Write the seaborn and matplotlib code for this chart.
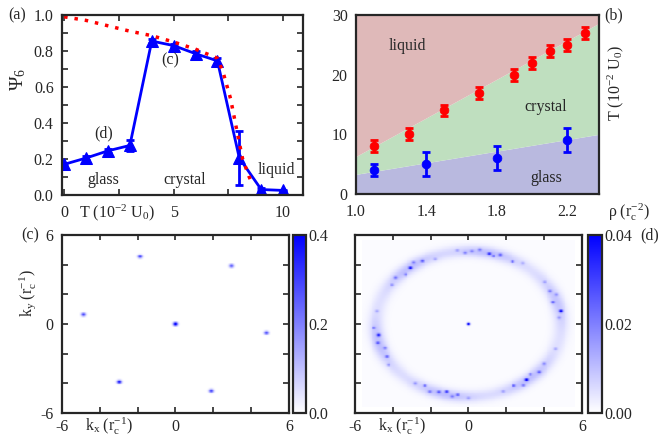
import numpy as np
import seaborn as sns
import matplotlib.pyplot as plt
from matplotlib.colors import LinearSegmentedColormap

# (a) order parameter vs temperature
a_T = [0, 1, 2, 3, 4, 5, 6, 7, 8, 9, 10]
a_psi = [0.17, 0.205, 0.245, 0.275, 0.855, 0.83, 0.785, 0.745, 0.205, 0.03, 0.025]
a_err = [0.01, 0.01, 0.01, 0.03, 0.01, 0.01, 0.015, 0.015, 0.15, 0.01, 0.005]
fit_T = [0, 1, 2, 3, 4, 5, 6, 7, 7.25, 7.6, 7.9, 8.15, 8.45, 8.6]
fit_psi = [0.99, 0.97, 0.94, 0.91, 0.885, 0.85, 0.81, 0.76, 0.685, 0.535, 0.35, 0.2, 0.1, 0.06]

# (b) phase diagram
b_rho_melt = [1.1, 1.3, 1.5, 1.7, 1.9, 2.0, 2.1, 2.2, 2.3]
b_T_melt = [8, 10, 14, 17, 20, 22, 24, 25, 27]
b_err_melt = [1, 1, 1, 1, 1, 1, 1, 1, 1]
b_rho_glass = [1.1, 1.4, 1.8, 2.2]
b_T_glass = [4, 5, 6, 9]
b_err_glass = [1, 2, 2, 2]
b_rho_edge = [1.0, 2.38]
b_glass_edge = [3.3, 10.0]
b_liquid_edge = [6.3, 28.6]

# (c) structure factor of the crystal: Bragg peaks
c_peak_kx = [0, -1.87, 2.95, -4.85, 4.8, -2.96, 1.89]
c_peak_ky = [0, 4.54, 3.91, 0.63, -0.60, -3.91, -4.51]
c_peak_amp = [0.45, 0.28, 0.26, 0.28, 0.26, 0.35, 0.28]

# (d) structure factor of the glass: ring, broad lobes and bright speckles
d_ring_radius = 4.9
d_ring_amp = 0.0035
d_lobe_angles = [18, 78, 130, 195, 255, 312]
d_lobe_amp = [0.005, 0.006, 0.006, 0.006, 0.006, 0.006]
d_spot_angles = [5, 10, 18, 23, 27, 35, 55, 61, 70, 74, 77, 83, 88, 92, 97,
                 112, 120, 125, 129, 135, 141, 147, 170, 183, 189, 195, 200,
                 207, 213, 235, 241, 246, 251, 256, 260, 263, 270, 292, 300,
                 305, 309, 314, 319, 326, 340]
d_spot_r = [4.8, 4.95, 4.7, 5.05, 4.85, 4.9, 5.0, 4.8, 4.95, 4.75, 4.85, 5.05,
            4.9, 4.8, 5.0, 4.7, 4.9, 5.05, 4.85, 4.7, 4.95, 4.8, 4.9, 5.0,
            4.8, 4.95, 4.7, 4.85, 5.05, 4.9, 4.75, 5.0, 4.85, 4.7, 4.95, 4.8,
            5.0, 4.9, 4.8, 5.05, 4.85, 4.7, 4.95, 4.8, 4.9]
d_spot_amp = [0.01, 0.03, 0.016, 0.01, 0.012, 0.008, 0.008, 0.016, 0.018, 0.012,
              0.022, 0.012, 0.01, 0.012, 0.008, 0.008, 0.016, 0.012, 0.026, 0.012,
              0.015, 0.01, 0.008, 0.012, 0.03, 0.016, 0.012, 0.015, 0.01,
              0.01, 0.018, 0.012, 0.016, 0.022, 0.012, 0.015, 0.008, 0.008, 0.016,
              0.012, 0.03, 0.012, 0.016, 0.012, 0.008]
d_center_amp = 0.05
d_background = 0.0007

k_grid = np.linspace(-5.6, 5.6, 225)

blue_cmap = LinearSegmentedColormap.from_list('wb', ['#ffffff', '#0000ff'])
pink = '#dfb9b9'
green = '#bfdfbf'
lavender = '#b9b9df'
FS = 11.5


def style_axes(ax, xpad=4):
    ax.tick_params(direction='in', top=True, right=True, length=4, width=1.2,
                   labelsize=FS)
    ax.tick_params(axis='x', pad=xpad)
    ax.tick_params(axis='y', pad=6)
    for s in ax.spines.values():
        s.set_linewidth(1.6)


def row_text(ax, x, s, xpad=4):
    # text that sits in the tick-label row under the x axis
    ax.annotate(s, xy=(x, 0), xycoords=('data', 'axes fraction'),
                xytext=(0, -8.8 - xpad), textcoords='offset points',
                ha='center', va='baseline', fontsize=FS)


def main():
    sns.set_style('ticks')
    plt.rcParams['font.family'] = ['Liberation Serif', 'DejaVu Serif']
    plt.rcParams['mathtext.fontset'] = 'stix'

    fig = plt.figure(figsize=(6.58, 4.41), dpi=100)

    # ---------------- (a)
    ax = fig.add_axes([0.0942, 0.558, 0.366, 0.408])
    ax.errorbar(a_T, a_psi, yerr=a_err, fmt='none', ecolor='blue',
                elinewidth=2, capsize=3, capthick=2)
    sns.lineplot(x=a_T, y=a_psi, color='blue', lw=2, marker='^',
                 markersize=9, markeredgecolor='blue', ax=ax)
    sns.lineplot(x=fit_T, y=fit_psi, color='red', lw=2.5, ax=ax,
                 linestyle=(0, (1, 2)))
    ax.set_xlim(-0.1, 10.9)
    ax.set_ylim(0, 1)
    ax.set_xticks([0, 2.5, 5, 7.5, 10], ['0', '', '5', '', '10'])
    ax.set_yticks(np.arange(0, 1.01, 0.1),
                  ['0.0', '', '0.2', '', '0.4', '', '0.6', '', '0.8', '', '1.0'])
    style_axes(ax, xpad=7.5)
    ax.set_xlabel('')
    ax.set_ylabel('')
    ax.text(-0.18, 0.64, r'Ψ$\mathregular{_6}$', transform=ax.transAxes,
            rotation=90, ha='center', va='center', fontsize=14)
    row_text(ax, 2.4, r'T $\mathregular{(10^{-2}\ U_0)}$', xpad=7.5)
    ax.text(4.85, 0.75, '(c)', ha='center', va='center', fontsize=FS)
    ax.text(1.8, 0.34, '(d)', ha='center', va='center', fontsize=FS)
    ax.text(1.8, 0.085, 'glass', ha='center', va='center', fontsize=FS)
    ax.text(5.5, 0.085, 'crystal', ha='center', va='center', fontsize=FS)
    ax.text(9.7, 0.14, 'liquid', ha='center', va='center', fontsize=FS)

    # ---------------- (b)
    ax = fig.add_axes([0.541, 0.560, 0.369, 0.406])
    ax.fill_between(b_rho_edge, 0, b_glass_edge, color=lavender, lw=0)
    ax.fill_between(b_rho_edge, b_glass_edge, b_liquid_edge, color=green, lw=0)
    ax.fill_between(b_rho_edge, b_liquid_edge, 30, color=pink, lw=0)
    ax.errorbar(b_rho_melt, b_T_melt, yerr=b_err_melt, fmt='none', ecolor='red',
                elinewidth=2, capsize=3, capthick=2)
    ax.errorbar(b_rho_glass, b_T_glass, yerr=b_err_glass, fmt='none',
                ecolor='blue', elinewidth=2, capsize=3, capthick=2)
    sns.scatterplot(x=b_rho_melt, y=b_T_melt, color='red', s=40,
                    edgecolor='red', zorder=3, ax=ax)
    sns.scatterplot(x=b_rho_glass, y=b_T_glass, color='blue', s=40,
                    edgecolor='blue', zorder=3, ax=ax)
    ax.set_xlim(1.0, 2.38)
    ax.set_ylim(0, 30)
    ax.set_xticks([1.0, 1.2, 1.4, 1.6, 1.8, 2.0, 2.2],
                  ['1.0', '', '1.4', '', '1.8', '', '2.2'])
    ax.set_yticks([0, 10, 20, 30])
    style_axes(ax, xpad=7.5)
    ax.text(1.07, 0.62, r'T $\mathregular{(10^{-2}\ U_0)}$',
            transform=ax.transAxes, rotation=90, ha='center', va='center',
            fontsize=FS)
    row_text(ax, 2.55, r'ρ $\mathregular{(r_c^{-2})}$', xpad=7.5)
    ax.text(1.29, 24.8, 'liquid', ha='center', va='center', fontsize=FS)
    ax.text(2.08, 14.6, 'crystal', ha='center', va='center', fontsize=FS)
    ax.text(2.08, 2.7, 'glass', ha='center', va='center', fontsize=FS)

    # ---------------- (c) and (d) intensity grids
    KX, KY = np.meshgrid(k_grid, k_grid)
    c_grid = np.zeros_like(KX)
    for x0, y0, amp in zip(c_peak_kx, c_peak_ky, c_peak_amp):
        c_grid += amp * np.exp(-((KX - x0) ** 2 + (KY - y0) ** 2) / (2 * 0.085 ** 2))

    R = np.hypot(KX, KY)
    TH = np.degrees(np.arctan2(KY, KX)) % 360
    d_grid = np.full_like(KX, d_background)
    d_grid += d_ring_amp * np.exp(-(R - d_ring_radius) ** 2 / (2 * 0.3 ** 2))
    for ang, amp in zip(d_lobe_angles, d_lobe_amp):
        dth = (TH - ang + 180) % 360 - 180
        d_grid += amp * np.exp(-dth ** 2 / (2 * 14 ** 2)) * \
            np.exp(-(R - d_ring_radius) ** 2 / (2 * 0.25 ** 2))
    for ang, r0, amp in zip(d_spot_angles, d_spot_r, d_spot_amp):
        x0 = r0 * np.cos(np.radians(ang))
        y0 = r0 * np.sin(np.radians(ang))
        d_grid += amp * np.exp(-((KX - x0) ** 2 + (KY - y0) ** 2) / (2 * 0.07 ** 2))
    d_grid += d_center_amp * np.exp(-(KX ** 2 + KY ** 2) / (2 * 0.06 ** 2))

    panels = [
        (c_grid, 0.4, [0.0942, 0.0635, 0.345, 0.404], [0.4453, 0.0635, 0.0198, 0.404], '%.1f'),
        (d_grid, 0.04, [0.5395, 0.0635, 0.345, 0.404], [0.8936, 0.0635, 0.0213, 0.404], '%.2f'),
    ]
    for i, (grid, vmax, rect, crect, fmt) in enumerate(panels):
        ax = fig.add_axes(rect)
        mesh = ax.pcolormesh(k_grid, k_grid, grid, cmap=blue_cmap, vmin=0,
                             vmax=vmax, shading='auto')
        ax.set_xlim(-6, 6)
        ax.set_ylim(-6, 6)
        ax.set_xticks(np.arange(-6, 6.1, 2), ['-6', '', '', '0', '', '', '6'])
        if i == 0:
            ax.set_yticks(np.arange(-6, 6.1, 2), ['-6', '', '', '0', '', '', '6'])
            ax.text(-0.15, 0.67, r'$\mathregular{k_y\ (r_c^{-1})}$',
                    transform=ax.transAxes, rotation=90, ha='center',
                    va='center', fontsize=FS)
        else:
            ax.set_yticks(np.arange(-6, 6.1, 2), [''] * 7)
        style_axes(ax, xpad=4)
        row_text(ax, -3.5, r'$\mathregular{k_x\ (r_c^{-1})}$', xpad=4)

        cax = fig.add_axes(crect)
        cb = fig.colorbar(mesh, cax=cax, ticks=[0, vmax / 2, vmax], format=fmt)
        cb.outline.set_linewidth(1.6)
        cax.tick_params(direction='in', length=4, width=1.2, labelsize=FS,
                        left=True, right=True, pad=2)

    fig.text(0.026, 0.966, '(a)', ha='center', va='center', fontsize=FS)
    fig.text(0.932, 0.966, '(b)', ha='center', va='center', fontsize=FS)
    fig.text(0.046, 0.467, '(c)', ha='center', va='center', fontsize=FS)
    fig.text(0.988, 0.467, '(d)', ha='center', va='center', fontsize=FS)

    fig.savefig('out.png', dpi=100)


if __name__ == "__main__":
    main()
